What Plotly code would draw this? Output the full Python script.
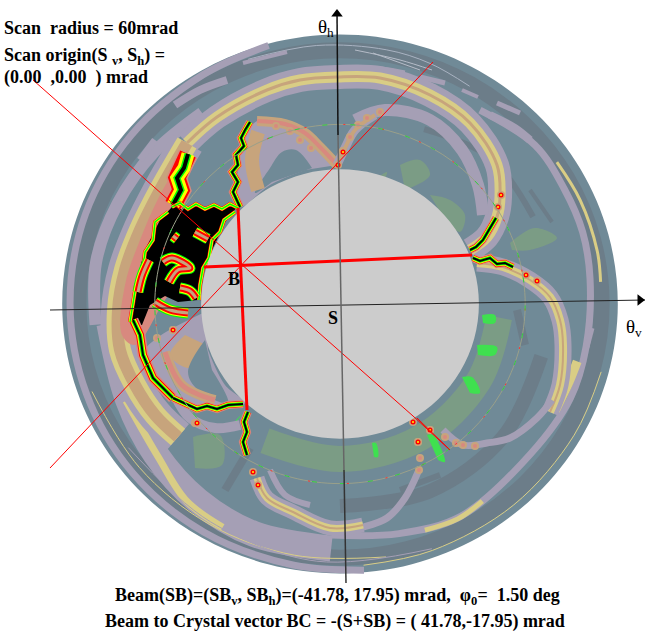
import math
import plotly.graph_objects as go

# ---- calibration of the picture: mrad <-> page position
PX0, PY0, SX, SY = 340.0, 304.0, 4.63, 4.49
W, H = 664, 635

SLATE = "#708a97"; GREY = "#6c7d89"; LAV = "#a59fb5"; YEL = "#d9cd85"; TAN = "#c7a47c"
PINK = "#d8897f"; GRN = "#7b9c85"; BRIGHT = "#3fe04f"; RED = "#ff0000"; YY = "#ffff00"; GG = "#00ff00"; BK = "#000000"

# ---- polar rings: angle (deg) and radius (mrad)
full_theta = list(range(0, 361, 15))
scan_radius = 60.0
inner_radius = 30.0
dash_radius = 40.0

# (theta list, radius list, width, colour)
rings = [
    (full_theta, [56.5] * 25, 16, GREY),
    ([105, 120, 140, 160, 180, 200, 220, 240, 260, 275], [59.6, 59.0, 58.7, 58.5, 58.3, 58.3, 58.5, 58.7, 59.0, 59.5], 7, LAV),
    ([125, 140, 155, 170, 185], [52.0, 52.5, 53.0, 53.5, 53.0], 12, LAV),
    ([55, 40, 28, 17, 6, -10, -23, -39, -61, -76, -92], [52.7, 55.0, 54.8, 54.8, 54.3, 54.0, 54.0, 53.0, 54.0, 52.7, 51.5], 7, LAV),
    ([34, 24, 12, 5], [56.5, 56.8, 56.8, 56.5], 3, YEL),
    ([-55, -62, -70], [53.6, 54.2, 53.6], 5, YEL),
    ([-14, -20, -27], [52.8, 52.4, 52.2], 9, YEL),
    ([185, 205, 220, 235, 250, 268], [50.0, 50.5, 52.0, 53.5, 54.5, 54.5], 26, LAV),
    ([205, 221, 233, 243], [51.0, 52.0, 55.0, 55.8], 7, YEL),
    ([60, 70, 80, 95, 110], [56.0, 57.0, 57.5, 57.8, 58.0], 1, "#a9b3c2"),
    ([200, 220, 240, 260, 280], [57.0, 56.6, 56.6, 56.8, 57.2], 1, YEL),
    ([215, 240, 265, 290], [55.8, 56.0, 57.5, 58.0], 1, LAV),
    ([-85, -70, -50, -30, -15], [58.4, 58.4, 58.4, 58.4, 58.4], 1, YEL),
    ([-5, -30, -60, -90, -118], [34.5, 34.5, 34.5, 34.5, 34.5], 26, GRN),
    ([-15, -40, -65, -90], [45.0, 46.0, 46.0, 45.0], 14, GREY),
    ([25, 45, 65], [46.0, 46.0, 43.0], 6, GREY),
]

# ---- curves: (x, y) positions in page pixels
arc_big_top = [(470, 250), (487, 237), (497, 217), (500, 197), (497, 165), (470, 123), (430, 95), (380, 78), (337, 77), (300, 80), (267, 90), (217, 117), (187, 143)]
arc_top_inner = [(355, 120), (385, 110), (430, 120), (462, 150), (478, 185), (483, 215)]
arc_right = [(477, 263), (503, 267), (530, 280), (550, 297), (560, 320), (563, 345), (560, 385), (550, 412)]
arc_right_low = [(443, 430), (463, 445), (487, 443), (510, 438), (537, 418), (552, 400)]
arc_bottom = [(257, 478), (267, 498), (293, 512), (330, 528), (363, 525)]
arc_bottom_end = [(340, 531), (363, 527), (387, 518), (405, 498), (418, 472)]
arc_left = [(187, 143), (160, 190), (140, 230), (125, 270), (118, 310), (120, 350), (135, 385), (155, 415), (178, 437)]
arc_left_in = [(175, 395), (190, 418), (215, 428), (240, 425)]
arc_bottom_in = [(270, 470), (285, 495), (310, 505)]

streaks = [
    ([(420, 77), (445, 83)], 5, LAV),
    ([(490, 115), (515, 128), (530, 140)], 8, LAV),
    ([(497, 103), (520, 113)], 5, LAV),
    ([(462, 90), (478, 97)], 4, LAV),
    ([(355, 50), (400, 60), (432, 70)], 1, "#b5bcc8"),
    ([(373, 53), (420, 70)], 1, "#b5bcc8"),
    ([(350, 68), (380, 68), (405, 72)], 3, LAV),
    ([(243, 63), (287, 52)], 4, LAV),
    ([(175, 105), (200, 90), (227, 80)], 8, LAV),
    ([(140, 160), (155, 140)], 7, LAV),
    ([(587, 347), (592, 328)], 5, LAV),
    ([(530, 190), (552, 222)], 4, GREY),
    ([(517, 310), (525, 345)], 8, GREY),
    ([(400, 490), (440, 475)], 6, GREY),
    ([(250, 448), (225, 490)], 8, GREY),
    ([(290, 75), (325, 72)], 5, PINK),
    ([(215, 120), (195, 135)], 5, PINK),
]

top_left_petal = [(337, 165), (320, 147), (285, 124), (257, 121), (243, 145), (237, 190), (240, 207), (270, 185), (305, 170)]
low_left_petal = [(205, 312), (157, 338), (145, 352), (165, 385), (200, 407), (245, 403), (225, 385), (208, 350)]
slate_core_top = [(312, 168), (296, 150), (282, 152), (270, 168), (255, 193), (272, 182)]
slate_core_low = [(205, 340), (188, 372), (198, 390), (228, 403), (212, 370)]
tan_band_low = [(185, 335), (170, 355), (190, 368), (206, 345)]
left_fill = [(187, 150), (160, 195), (140, 240), (125, 285), (122, 335), (135, 345), (165, 300), (200, 250), (170, 210)]

black_main = [(172, 207), (205, 207), (237, 207), (225, 222), (205, 265), (198, 300), (178, 302), (165, 296), (150, 305), (142, 325), (130, 325), (135, 285), (145, 250), (160, 220)]
edge_top = [(172, 207), (180, 203), (188, 209), (196, 204), (205, 209), (214, 205), (222, 209), (230, 204), (238, 208)]
edge_left = [(130, 322), (134, 300), (136, 285), (143, 270), (145, 252), (153, 240), (155, 222), (168, 212)]
edge_right = [(235, 212), (224, 220), (220, 232), (212, 240), (209, 258), (203, 268), (200, 285), (199, 300)]
hole_a = [(163, 262), (172, 258), (190, 268), (178, 270), (169, 282)]
hole_b = [(180, 288), (190, 291), (196, 298)]
hole_c = [(149, 260), (142, 276), (138, 292)]
hole_d = [(195, 232), (208, 239)]
hole_e = [(173, 236), (177, 239)]
hole_f = [(155, 302), (170, 310), (188, 313)]
ridge_a = [(188, 154), (184, 168), (177, 178), (181, 190), (173, 205)]
ridge_b = [(250, 122), (245, 130), (241, 138), (244, 146), (236, 155), (238, 165), (232, 172), (238, 182), (233, 192), (240, 207)]
ridge_c = [(133, 320), (140, 335), (143, 355), (153, 378), (173, 398)]
ridge_c2 = [(173, 398), (187, 404), (197, 409), (207, 406), (217, 409), (228, 405), (243, 404)]
ridge_d = [(248, 412), (244, 422), (247, 432), (243, 442), (247, 455)]
ridge_e = [(470, 250), (476, 247), (483, 240), (488, 231), (493, 223), (496, 218)]
ridge_f = [(473, 258), (480, 261), (490, 258), (497, 264), (505, 263), (513, 267)]
scallop_top = [(337, 165), (320, 147), (305, 133), (285, 124), (257, 121)]
scallop_up = [(337, 165), (345, 148), (355, 130), (375, 115)]

mild_x = [343, 311, 300, 290, 276, 350, 358, 367, 380, 430, 445, 456, 418, 420, 419, 463, 475, 195, 173, 157]
mild_y = [151, 148, 140, 131, 126, 137, 125, 118, 112, 430, 437, 443, 442, 458, 470, 445, 446, 423, 330, 338]
hot_x = [338, 343, 498, 501, 526, 537, 413, 430, 418, 197, 173, 253, 258]
hot_y = [165, 152, 207, 195, 275, 281, 422, 430, 442, 423, 330, 472, 485]

patches = [
    ([430, 450, 465, 460, 445], [195, 200, 215, 232, 220], GRN),
    ([400, 420, 430, 405], [165, 160, 175, 190], GRN),
    ([365, 387, 380], [188, 172, 188], GRN),
    ([510, 535, 557, 530, 512], [243, 228, 238, 250, 250], GRN),
    ([193, 220, 222, 195], [437, 435, 465, 468], GRN),
    ([462, 472, 480, 470], [377, 377, 393, 393], BRIGHT),
    ([477, 497, 495, 478], [345, 347, 355, 355], BRIGHT),
    ([482, 495, 495, 483], [315, 315, 323, 323], BRIGHT),
    ([427, 433, 445, 438], [435, 435, 462, 460], BRIGHT),
    ([372, 376, 378, 374], [443, 443, 457, 457], BRIGHT),
    ([227, 242, 228], [430, 414, 432], BRIGHT),
]

# ---- straight lines
beam_h_x = [204, 472]; beam_h_y = [267, 255]
beam_v_x = [238, 247]; beam_v_y = [208, 410]
diag_a_x = [33, 413, 450, 417]; diag_a_y = [80, 416, 450, 418]
diag_b_x = [50, 433]; diag_b_y = [468, 62]
axis_v_top_x = [337, 338]; axis_v_top_y = [12, 135]
axis_v_mid_x = [338, 344]; axis_v_mid_y = [135, 470]
axis_v_low_x = [344, 346]; axis_v_low_y = [470, 583]
axis_h_x = [50, 645]; axis_h_y = [310, 300]


def to_x(p):
    return (p - PX0) / SX


def to_y(p):
    return (PY0 - p) / SY


def polar(theta, r):
    return [r_ * math.cos(math.radians(t)) for t, r_ in zip(theta, r)], [r_ * math.sin(math.radians(t)) for t, r_ in zip(theta, r)]


fig = go.Figure()


def add_line(x, y, width, colour, smooth=True, dash=None):
    fig.add_trace(go.Scatter(x=x, y=y, mode="lines", hoverinfo="skip",
                             line=dict(width=width, color=colour, shape="spline" if smooth else "linear", dash=dash)))


def add_fill(x, y, colour, smooth=True):
    fig.add_trace(go.Scatter(x=x, y=y, mode="lines", fill="toself", fillcolor=colour, hoverinfo="skip",
                             line=dict(width=0, color=colour, shape="spline" if smooth else "linear")))


def add_px_line(points, levels, smooth=True):
    x = [to_x(p[0]) for p in points]
    y = [to_y(p[1]) for p in points]
    for width, colour in levels:
        add_line(x, y, width, colour, smooth)


def add_px_fill(points, colour, smooth=True):
    add_fill([to_x(p[0]) for p in points], [to_y(p[1]) for p in points], colour, smooth)


def add_dots(xs, ys, levels):
    for size, colour in levels:
        fig.add_trace(go.Scatter(x=[to_x(v) for v in xs], y=[to_y(v) for v in ys], mode="markers", hoverinfo="skip",
                                 marker=dict(size=size, color=colour, line=dict(width=0))))


# disc
dx, dy = polar(full_theta, [scan_radius] * 25)
add_fill(dx, dy, SLATE)
for th, r, w, c in rings:
    x, y = polar(th, r)
    add_line(x, y, w, c)
for px, py, c in patches:
    add_fill([to_x(v) for v in px], [to_y(v) for v in py], c)
for pts, w, c in streaks:
    add_px_line(pts, [(w, c)])

# bands
add_px_line(arc_big_top, [(24, LAV), (11, YEL), (3, TAN)])
add_px_line(arc_top_inner, [(12, LAV)])
add_px_line(arc_right, [(17, LAV), (8, YEL), (2, TAN)])
add_px_line(arc_right_low, [(7, LAV)])
add_px_line(arc_bottom_end, [(7, LAV)])
add_px_line(arc_bottom, [(15, LAV), (7, YEL), (2, TAN)])
add_px_line(arc_bottom_in, [(6, LAV)])
add_px_line(arc_left, [(34, LAV), (22, YEL), (12, TAN)])
add_px_line(arc_left_in, [(10, LAV)])

# petals
add_px_fill(left_fill, PINK)
add_px_fill(top_left_petal, LAV)
add_px_fill(low_left_petal, LAV)
add_px_fill(tan_band_low, TAN)
add_px_fill(slate_core_top, SLATE)
add_px_fill(slate_core_low, SLATE)
add_px_line([(258, 132), (252, 160), (258, 190)], [(14, TAN)])
add_px_line([(165, 352), (182, 385), (215, 400)], [(10, TAN), (5, PINK)])
add_px_line(scallop_top, [(10, TAN), (4, PINK)])
add_px_line(scallop_up, [(9, LAV), (4, TAN)])

# bright ridges
add_px_fill(black_main, BK, smooth=False)
add_px_line(ridge_a, [(20, PINK), (17, RED), (13, YY), (7, GG), (4, BK)], smooth=False)
add_px_line(ridge_c, [(11, PINK), (8, RED), (6, YY), (4, GG), (2, BK)], smooth=False)
for ridge in (ridge_b, ridge_c2, ridge_d, ridge_e, ridge_f):
    add_px_line(ridge, [(8, PINK), (6, RED), (5, YY), (3.5, GG), (2, BK)], smooth=False)
for edge in (edge_top, edge_left, edge_right):
    add_px_line(edge, [(4, RED), (3, YY), (1.5, GG)], smooth=False)
for hole in (hole_a, hole_b, hole_c, hole_d, hole_e, hole_f):
    add_px_line(hole, [(11, GG), (9, YY), (7, RED), (3, TAN)])

add_dots(mild_x, mild_y, [(8, TAN), (4, PINK)])
add_dots(hot_x, hot_y, [(8, TAN), (5, RED), (2, YY)])

# ring of reflections
rx, ry = polar(full_theta, [dash_radius] * 25)
add_line(rx, ry, 1, "#9aa08a")
add_line(rx, ry, 1, "#ff3030", dash="2px,37px")
add_line(rx, ry, 1, "#30d040", dash="5px,23px")

# centre blank
ix, iy = polar(full_theta, [inner_radius] * 25)
add_fill(ix, iy, "#cccccc")

# lines
add_line([to_x(v) for v in diag_a_x], [to_y(v) for v in diag_a_y], 1, RED, smooth=False)
add_line([to_x(v) for v in diag_b_x], [to_y(v) for v in diag_b_y], 1, RED, smooth=False)
add_line([to_x(v) for v in beam_h_x], [to_y(v) for v in beam_h_y], 3, RED, smooth=False)
add_line([to_x(v) for v in beam_v_x], [to_y(v) for v in beam_v_y], 3, RED, smooth=False)
add_line([to_x(v) for v in axis_h_x], [to_y(v) for v in axis_h_y], 1, "#222222", smooth=False)
add_line([to_x(v) for v in axis_v_top_x], [to_y(v) for v in axis_v_top_y], 1.5, "#111111", smooth=False)
add_line([to_x(v) for v in axis_v_mid_x], [to_y(v) for v in axis_v_mid_y], 1.5, "#666666", smooth=False)
add_line([to_x(v) for v in axis_v_low_x], [to_y(v) for v in axis_v_low_y], 1.5, "#333333", smooth=False)
fig.add_trace(go.Scatter(x=[to_x(337)], y=[to_y(14)], mode="markers", hoverinfo="skip",
                         marker=dict(symbol="triangle-up", size=10, color="#000000")))
fig.add_trace(go.Scatter(x=[to_x(640)], y=[to_y(300)], mode="markers", hoverinfo="skip",
                         marker=dict(symbol="triangle-right", size=10, color="#000000")))


def label(px, py, text, size=18, bold=True, anchor="left"):
    fig.add_annotation(x=to_x(px), y=to_y(py), xref="x", yref="y", text=f"<b>{text}</b>" if bold else text,
                       showarrow=False, xanchor=anchor, yanchor="middle",
                       font=dict(family="Liberation Serif", size=size, color="#000000"))


label(2, 28, "Scan  radius = 60mrad")
label(2, 56, "Scan origin(S <sub>v</sub>, S<sub>h</sub>) =")
label(2, 77, "(0.00  ,0.00  ) mrad")
label(113, 596, "Beam(SB)=(SB<sub>v</sub>, SB<sub>h</sub>)=(-41.78, 17.95) mrad,  φ<sub>0</sub>=  1.50 deg")
label(103, 621, "Beam to Crystal vector BC = -(S+SB) = ( 41.78,-17.95) mrad")
label(226, 279, "B", 18)
label(326, 318, "S", 18)
label(316, 28, "θ<sub>h</sub>", 19, False)
label(624, 328, "θ<sub>v</sub>", 19, False)

fig.update_layout(width=W, height=H, showlegend=False, margin=dict(l=0, r=0, t=0, b=0),
                  paper_bgcolor="#ffffff", plot_bgcolor="#ffffff",
                  xaxis=dict(range=[to_x(0), to_x(W)], visible=False, fixedrange=True),
                  yaxis=dict(range=[to_y(H), to_y(0)], visible=False, fixedrange=True))
fig.write_html("out.html", config={"displayModeBar": False},
               post_script="document.body.style.margin='0';document.body.style.overflow='hidden';")
